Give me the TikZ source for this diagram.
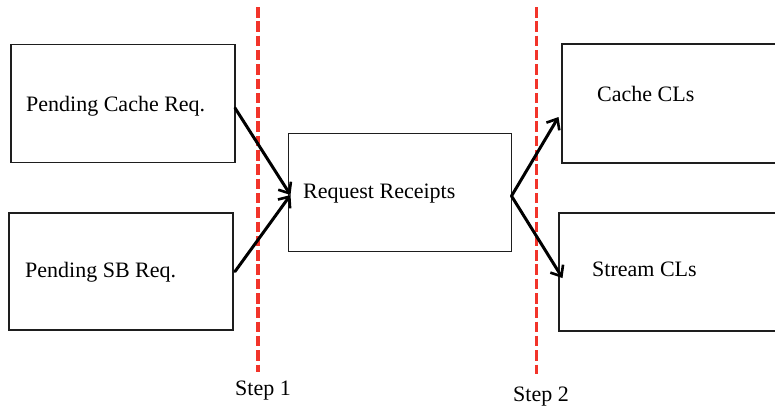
\documentclass[tikz,border=0pt]{standalone}
\usepackage{fontspec}
\setmainfont{Liberation Serif}
\usetikzlibrary{arrows.meta}
\definecolor{stepred}{RGB}{242,52,42}
\definecolor{boxline}{RGB}{30,30,30}
\tikzset{
  box/.style={draw=boxline, line width=1.6pt, fill=white, inner sep=0pt, outer sep=0pt},
  lbl/.style={font=\fontsize{22}{24}\selectfont, inner sep=0pt, anchor=base west},
  flow/.style={line width=3pt, line cap=round, -{Straight Barb[length=9pt,width=15pt,line width=2.6pt]}},
  stepline/.style={stepred, line width=3.3pt, dash pattern=on 10.5pt off 3.8pt}
}
\begin{document}
\begin{tikzpicture}[x=1pt,y=-1pt]
\useasboundingbox (0,0) rectangle (775,408);
\clip (0,0) rectangle (775,408);
% boxes
\node[box, minimum width=224pt, minimum height=118pt] (b1) at (123,103.5) {};
\node[box, minimum width=224pt, minimum height=117pt] (b2) at (121,271.5) {};
\node[box, minimum width=223pt, minimum height=118pt] (b3) at (400,192.5) {};
\node[box, minimum width=240pt, minimum height=119pt] (b4) at (682,103.5) {};
\node[box, minimum width=240pt, minimum height=118pt] (b5) at (679,272) {};
% labels
\node[lbl] (t1) at (26,111.5) {Pending Cache Req.};
\node[lbl] (t2) at (25,277.5) {Pending SB Req.};
\node[lbl] (t3) at (303,198.3) {Request Receipts};
\node[lbl] (t4) at (597,101) {Cache CLs};
\node[lbl] (t5) at (592,276) {Stream CLs};
% step lines
\coordinate (s1top) at (258,7);
\coordinate (s1bot) at (258,372);
\coordinate (s2top) at (536.5,7);
\coordinate (s2bot) at (536.5,374);
\draw[stepline] (s1top) -- (s1bot);
\draw[stepline] (s2top) -- (s2bot);
\node[lbl] (st1) at (235,395) {Step 1};
\node[lbl] (st2) at (513,401.5) {Step 2};
% arrows
\coordinate (a1s) at ([yshift=-4.5pt]b1.east);
\coordinate (a2s) at ([xshift=2pt]b2.east);
\coordinate (mid) at ([xshift=2pt,yshift=-2.5pt]b3.west);
\coordinate (out) at ([yshift=-3.5pt]b3.east);
\coordinate (a4e) at ([xshift=-3.5pt,yshift=-13.5pt]b4.west);
\coordinate (a5e) at ([xshift=3.5pt,yshift=-6pt]b5.west);
\draw[flow] (a1s) -- (mid);
\draw[flow] (a2s) -- (mid);
\draw[flow] (out) -- (a4e);
\draw[flow] (out) -- (a5e);
\end{tikzpicture}
\end{document}
